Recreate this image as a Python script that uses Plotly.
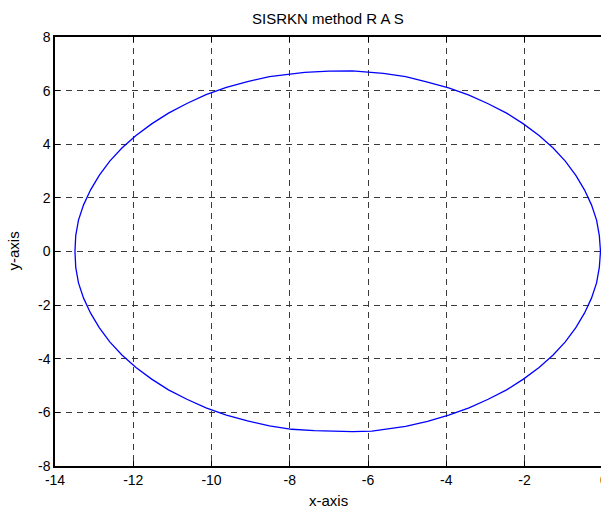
import plotly.graph_objects as go

# Orbit trajectory computed by the SISRKN integrator (x, y samples)
x_pts = [-0.06, -0.09, -0.16, -0.29, -0.47, -0.69, -0.96, -1.27, -1.63, -2.03,
         -2.46, -2.93, -3.42, -3.94, -4.48, -5.04, -5.61, -6.00, -6.40, -7.00,
         -7.62, -8.52, -9.08, -9.62, -10.14, -10.63, -11.10, -11.53, -11.93,
         -12.29, -12.60, -12.87, -13.09, -13.27, -13.40, -13.47, -13.49,
         -13.47, -13.40, -13.27, -13.09, -12.87, -12.60, -12.29, -11.93,
         -11.53, -11.10, -10.63, -10.14, -9.62, -9.08, -8.52, -7.95, -7.37,
         -6.90, -6.40, -5.90, -5.04, -4.48, -3.94, -3.42, -2.93, -2.46,
         -2.03, -1.63, -1.27, -0.96, -0.69, -0.47, -0.29, -0.16, -0.09, -0.06]
y_pts = [0.00, 0.59, 1.17, 1.74, 2.30, 2.84, 3.37, 3.86, 4.33, 4.76,
         5.16, 5.51, 5.83, 6.10, 6.32, 6.52, 6.64, 6.69, 6.74, 6.73,
         6.68, 6.52, 6.34, 6.12, 5.85, 5.52, 5.16, 4.76, 4.33,
         3.86, 3.37, 2.84, 2.30, 1.74, 1.17, 0.59, 0.00,
         -0.59, -1.17, -1.74, -2.30, -2.84, -3.37, -3.86, -4.33,
         -4.76, -5.16, -5.51, -5.83, -6.10, -6.32, -6.50, -6.63, -6.68,
         -6.70, -6.72, -6.70, -6.52, -6.34, -6.10, -5.83, -5.51, -5.16,
         -4.76, -4.33, -3.86, -3.37, -2.84, -2.30, -1.74, -1.17, -0.59, 0.00]

x_ticks = [-14, -12, -10, -8, -6, -4, -2]
y_ticks = [-8, -6, -4, -2, 0, 2, 4, 6, 8]

title_text = "SISRKN method R A S"
x_label = "x-axis"
y_label = "y-axis"

FONT = "Liberation Sans, Arial, sans-serif"

fig = go.Figure()
fig.add_trace(go.Scatter(
    x=x_pts, y=y_pts, mode="lines",
    line=dict(color="#0000ff", width=1.3),
    showlegend=False, hoverinfo="skip",
))

axis_common = dict(
    showgrid=True, gridcolor="#3a3a3a", gridwidth=1, griddash="6px,5px",
    zeroline=False, showline=True, linecolor="black", linewidth=1.5,
    ticks="inside", ticklen=5, tickcolor="black",
    tickfont=dict(family=FONT, size=14, color="black"),
)

fig.update_layout(
    width=601, height=508,
    margin=dict(l=55, r=0, t=37, b=42),
    paper_bgcolor="white", plot_bgcolor="white",
    xaxis=dict(range=[-14, -0.047], tickvals=x_ticks,
               ticktext=[str(v) for v in x_ticks], mirror="allticks",
               **axis_common),
    yaxis=dict(range=[-8, 8], tickvals=y_ticks,
               ticktext=[str(v) for v in y_ticks], mirror=False,
               **axis_common),
    annotations=[
        dict(text=title_text, xref="paper", yref="paper", x=0.5, y=1,
             yshift=19, showarrow=False, xanchor="center", yanchor="middle",
             font=dict(family=FONT, size=15, color="black")),
        dict(text=x_label, xref="paper", yref="paper", x=0.5, y=0,
             yshift=-34, showarrow=False, xanchor="center", yanchor="middle",
             font=dict(family=FONT, size=15, color="black")),
        dict(text=y_label, xref="paper", yref="paper", x=0, y=0.5,
             xshift=-42, showarrow=False, xanchor="center", yanchor="middle",
             textangle=-90, font=dict(family=FONT, size=15, color="black")),
        # the x = 0 tick label sits at the right border of the frame
        dict(text="0", xref="paper", yref="paper", x=1, y=0, xshift=3,
             yshift=-14, showarrow=False, xanchor="center", yanchor="middle",
             font=dict(family=FONT, size=14, color="black")),
    ],
)

fig.write_html("out.html")
